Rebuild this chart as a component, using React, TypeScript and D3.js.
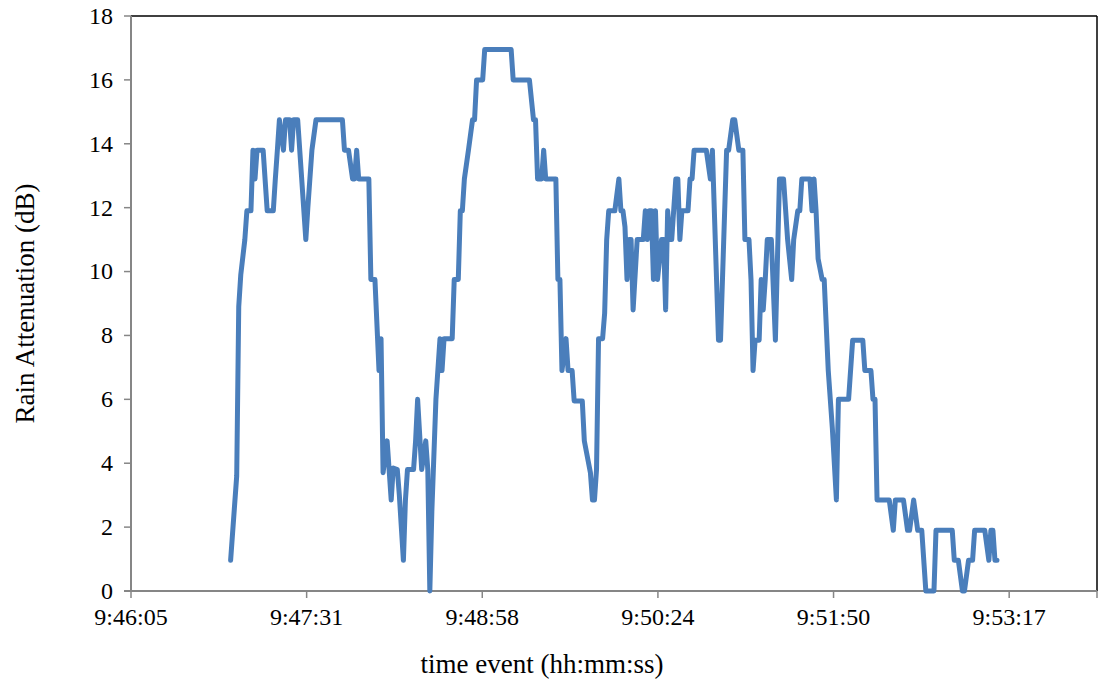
import React from 'react';
import * as d3 from 'd3';

// seconds after 9:46:05 and rain attenuation (dB)
const seconds = [
  49, 52, 53, 54, 56, 57, 59, 60, 61, 62, 65, 67, 70, 71, 72, 73, 75, 76, 78, 79,
  80, 82, 86, 87, 89, 91, 104, 105, 107, 109, 110, 111, 112, 117, 118, 120, 122, 123, 124, 126,
  128, 129, 131, 132, 134, 135, 136, 139, 140, 141, 143, 145, 146, 147, 148, 150, 152, 153, 154, 158,
  159, 161, 162, 163, 164, 166, 168, 169, 170, 173, 174, 187, 188, 196, 198, 199, 200, 202, 203, 204,
  209, 210, 211, 212, 214, 215, 217, 218, 222, 223, 226, 227, 228, 229, 230, 232, 233, 234, 235, 238,
  240, 241, 242, 243, 244, 245, 246, 247, 249, 252, 253, 254, 255, 256, 257, 258, 259, 261, 262, 263,
  264, 265, 266, 268, 269, 270, 271, 274, 275, 276, 277, 283, 285, 286, 289, 290, 293, 294, 296, 297,
  299, 301, 302, 304, 305, 306, 307, 309, 310, 311, 312, 313, 315, 317, 319, 321, 323, 325, 326, 328,
  329, 330, 334, 335, 336, 337, 338, 340, 341, 343, 345, 347, 348, 353, 355, 360, 361, 364, 365, 366,
  367, 373, 375, 376, 380, 382, 383, 385, 387, 389, 391, 395, 396, 404, 405, 407, 409, 410, 412, 414,
  415, 420, 422, 423, 424, 425, 426,
];
const attenuation = [
  0.96, 3.6, 8.9, 9.9, 11.0, 11.9, 11.9, 13.8, 12.9, 13.8, 13.8, 11.9, 11.9, 12.9, 13.8, 14.75, 13.8, 14.75, 14.75, 13.8,
  14.75, 14.75, 11.0, 12.0, 13.8, 14.75, 14.75, 13.8, 13.8, 12.9, 12.9, 13.8, 12.9, 12.9, 9.75, 9.75, 6.9, 7.9, 3.7, 4.7,
  2.85, 3.85, 3.8, 3.0, 0.96, 2.85, 3.8, 3.8, 4.7, 6.0, 3.8, 4.7, 3.8, 0, 2.5, 6.0, 7.9, 6.9, 7.9, 7.9,
  9.75, 9.75, 11.9, 11.9, 12.9, 13.8, 14.75, 14.75, 16.0, 16.0, 16.95, 16.95, 16.0, 16.0, 14.75, 14.75, 12.9, 12.9, 13.8, 12.9,
  12.9, 9.75, 9.75, 6.9, 7.9, 6.9, 6.9, 5.95, 5.95, 4.7, 3.7, 2.85, 2.85, 3.8, 7.9, 7.9, 8.7, 11.0, 11.9, 11.9,
  12.9, 11.9, 11.9, 11.4, 9.75, 11.0, 11.0, 8.8, 11.0, 11.0, 11.9, 11.0, 11.9, 11.9, 9.75, 11.9, 9.75, 11.0, 11.0, 8.8,
  11.9, 11.0, 11.0, 12.9, 12.9, 11.0, 11.9, 11.9, 12.9, 12.9, 13.8, 13.8, 12.9, 13.8, 7.85, 7.85, 13.8, 13.8, 14.75, 14.75,
  13.8, 13.8, 11.0, 11.0, 9.75, 6.9, 7.85, 7.85, 9.75, 8.8, 9.75, 11.0, 11.0, 7.85, 12.9, 12.9, 11.0, 9.75, 11.0, 11.9,
  11.9, 12.9, 12.9, 11.9, 12.9, 11.9, 10.4, 9.75, 9.75, 6.9, 5.1, 2.85, 6.0, 6.0, 7.85, 7.85, 6.9, 6.9, 6.0, 6.0,
  2.85, 2.85, 1.9, 2.85, 2.85, 1.9, 1.9, 2.85, 1.9, 1.9, 0, 0, 1.9, 1.9, 0.96, 0.96, 0, 0, 0.96, 0.96,
  1.9, 1.9, 0.96, 1.9, 1.9, 0.96, 0.96,
];

// x axis: Excel date axis, major unit 0.001 day = 86.4 s
const xTickSeconds = [0, 86.4, 172.8, 259.2, 345.6, 432];
const xTickLabels = ['9:46:05', '9:47:31', '9:48:58', '9:50:24', '9:51:50', '9:53:17'];
const xMaxSeconds = 475.2;
const yTicks = [0, 2, 4, 6, 8, 10, 12, 14, 16, 18];

const W = 1100;
const H = 684;
const left = 131, right = 1097, top = 16, bottom = 591;
const font = '"Liberation Serif", "Times New Roman", serif';

export default function App() {
  const x = d3.scaleLinear().domain([0, xMaxSeconds]).range([left, right]);
  const y = d3.scaleLinear().domain([0, 18]).range([bottom, top]);

  const pts: [number, number][] = seconds.map((s, i) => [s, attenuation[i]]);
  const line = d3
    .line<[number, number]>()
    .x((d) => x(d[0]))
    .y((d) => y(d[1]));

  return (
    <svg
      width={W}
      height={H}
      style={{ position: 'absolute', left: 0, top: 0, background: '#fff' }}
      fontFamily={font}
    >
      {/* plot frame: black top and right, grey axes */}
      <line x1={left} x2={right} y1={top} y2={top} stroke="#000" strokeWidth={1.5} />
      <line x1={right} x2={right} y1={top} y2={bottom} stroke="#000" strokeWidth={1.5} />

      {yTicks.map((t) => (
        <g key={t}>
          <line x1={left - 7} x2={left} y1={y(t)} y2={y(t)} stroke="#868686" strokeWidth={1.5} />
          <text x={113} y={y(t)} dy="0.33em" textAnchor="end" fontSize={24} fill="#000">
            {t}
          </text>
        </g>
      ))}
      {xTickSeconds.map((t, i) => (
        <g key={t}>
          <line x1={x(t)} x2={x(t)} y1={bottom} y2={bottom + 7} stroke="#868686" strokeWidth={1.5} />
          <text x={x(t)} y={625} textAnchor="middle" fontSize={24} fill="#000">
            {xTickLabels[i]}
          </text>
        </g>
      ))}
      <line x1={right} x2={right} y1={bottom} y2={bottom + 7} stroke="#868686" strokeWidth={1.5} />

      <line x1={left} x2={left} y1={top} y2={bottom} stroke="#868686" strokeWidth={2} />
      <line x1={left - 7} x2={right} y1={bottom} y2={bottom} stroke="#868686" strokeWidth={2} />

      <path
        d={line(pts) ?? ''}
        fill="none"
        stroke="#4a7ebb"
        strokeWidth={5}
        strokeLinejoin="round"
        strokeLinecap="round"
      />

      <text x={542} y={673} textAnchor="middle" fontSize={27} fill="#000">
        time event (hh:mm:ss)
      </text>
      <text
        transform={`translate(34,${(top + bottom) / 2}) rotate(-90)`}
        textAnchor="middle"
        fontSize={27}
        fill="#000"
      >
        Rain Attenuation (dB)
      </text>
    </svg>
  );
}
